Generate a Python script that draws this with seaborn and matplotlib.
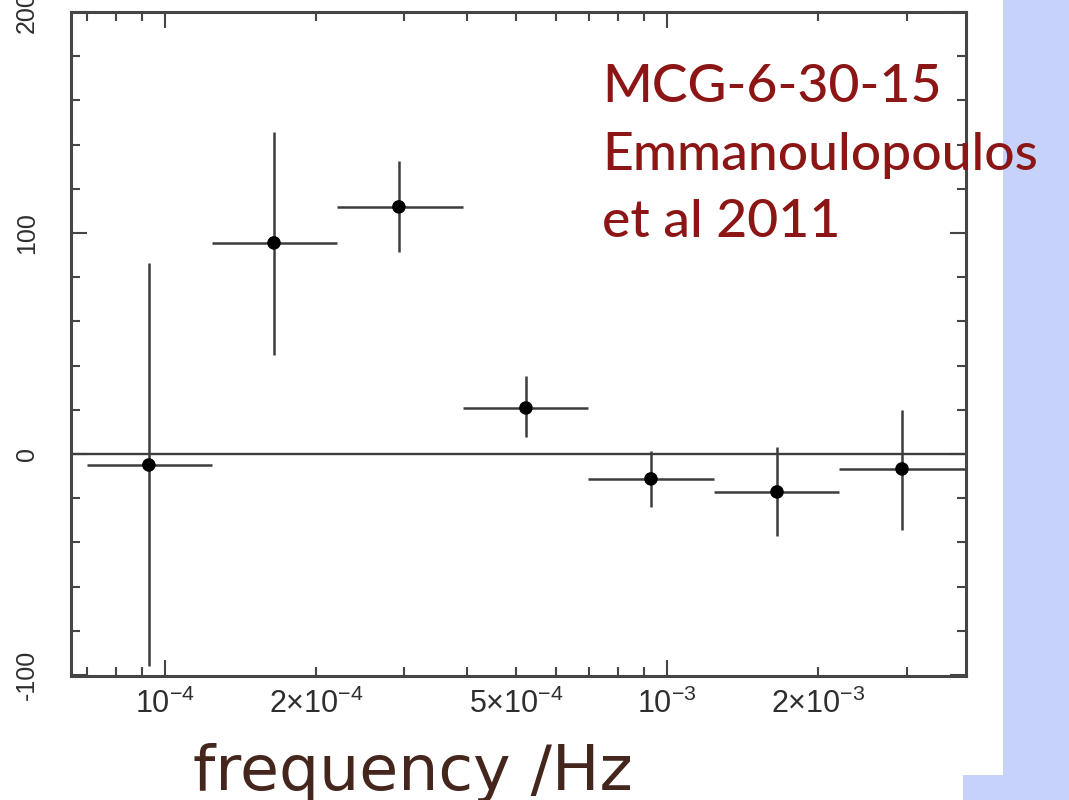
import numpy as np
import pandas as pd
import matplotlib
matplotlib.use("Agg")
import matplotlib.pyplot as plt
from matplotlib.patches import Rectangle
import seaborn as sns

# Time lag versus Fourier frequency for MCG-6-30-15 (bins are log-spaced)
freq = [9.29e-5, 1.649e-4, 2.924e-4, 5.236e-4, 9.29e-4, 1.656e-3, 2.938e-3]
freq_lo = [6.99e-5, 1.240e-4, 2.201e-4, 3.923e-4, 6.963e-4, 1.241e-3, 2.202e-3]
freq_hi = [1.240e-4, 2.201e-4, 3.923e-4, 6.963e-4, 1.241e-3, 2.202e-3, 3.923e-3]
lag = [-5.0, 95.5, 111.8, 20.8, -11.3, -17.2, -6.8]
lag_hi = [86.4, 145.7, 132.6, 35.3, 1.4, 3.2, 19.9]
lag_lo = [-95.9, 44.8, 91.4, 7.7, -24.0, -37.1, -34.4]

xtick_major = [1e-4, 1e-3]
xtick_major_labels = [r"$10^{-4}$", r"$10^{-3}$"]
xtick_minor = [7e-5, 8e-5, 9e-5, 2e-4, 3e-4, 4e-4, 5e-4, 6e-4, 7e-4, 8e-4, 9e-4, 2e-3, 3e-3]
xtick_minor_labels = ["", "", "", r"$2{\times}10^{-4}$", "", "", r"$5{\times}10^{-4}$",
                      "", "", "", "", r"$2{\times}10^{-3}$", ""]
ytick_major = [-100, 0, 100, 200]
ytick_major_labels = ["-100", "0", "100", "200"]
ytick_minor = [-80, -60, -40, -20, 20, 40, 60, 80, 120, 140, 160, 180]

title_lines = ["MCG-6-30-15", "Emmanoulopoulos", "et al 2011"]
xlabel_text = "frequency /Hz"

df = pd.DataFrame({"freq": freq, "lag": lag})

sns.set_theme(style="ticks")
plt.rcParams["font.family"] = ["Liberation Sans", "DejaVu Sans"]
plt.rcParams["mathtext.fontset"] = "custom"
plt.rcParams["mathtext.rm"] = "Liberation Sans"
plt.rcParams["mathtext.it"] = "Liberation Sans:italic"
plt.rcParams["mathtext.bf"] = "Liberation Sans:bold"

W, H = 1069, 800
fig = plt.figure(figsize=(W / 100, H / 100), dpi=100)
fig.patch.set_facecolor("white")

# slide background strips on the right edge
lav = "#c7d2fb"
fig.add_artist(Rectangle((1003 / W, 0), (W - 1003) / W, 1, transform=fig.transFigure,
                         facecolor=lav, edgecolor="none", zorder=0))
fig.add_artist(Rectangle((963 / W, 0), (W - 963) / W, 25 / H, transform=fig.transFigure,
                         facecolor=lav, edgecolor="none", zorder=0))

ax = fig.add_axes([71 / W, 124 / H, 895 / W, 664 / H])
ax.set_facecolor("white")

line_col = "#3d3d3d"
ax.axhline(0, color=line_col, lw=1.7, zorder=1)

lag_a = np.array(lag)
f_a = np.array(freq)
ax.errorbar(freq, lag,
            xerr=[f_a - np.array(freq_lo), np.array(freq_hi) - f_a],
            yerr=[lag_a - np.array(lag_lo), np.array(lag_hi) - lag_a],
            fmt="none", ecolor=line_col, elinewidth=1.8, capsize=0, zorder=2)
sns.scatterplot(data=df, x="freq", y="lag", ax=ax, color="black", s=95,
                edgecolor="none", zorder=3, legend=False)

ax.set_xscale("log")
ax.set_xlim(6.50e-5, 3.94e-3)
ax.set_ylim(-100.5, 200)

ax.set_xticks(xtick_major)
ax.set_xticklabels(xtick_major_labels)
ax.set_xticks(xtick_minor, minor=True)
ax.set_xticklabels(xtick_minor_labels, minor=True)
ax.set_yticks(ytick_major)
ax.set_yticklabels(ytick_major_labels)
ax.set_yticks(ytick_minor, minor=True)

ax.set_xlabel("")
ax.set_ylabel("")

spine_col = "#454545"
for s in ax.spines.values():
    s.set_visible(True)
    s.set_color(spine_col)
    s.set_linewidth(2.2)

ax.tick_params(which="both", direction="in", top=True, right=True,
               color=spine_col, width=1.5, labelcolor="#2e2e2e")
ax.tick_params(which="major", length=11.5)
ax.tick_params(which="minor", length=6.5)
ax.tick_params(axis="x", which="both", pad=9, labelsize=22)
ax.tick_params(axis="y", which="both", pad=23, labelsize=18, labelrotation=90)
for t in ax.get_yticklabels():
    t.set_va("center")

# annotation in the upper right
red = "#8c1515"
for txt, base in zip(title_lines, [102, 170, 237]):
    fig.text(602 / W, 1 - base / H, txt, color=red, fontsize=38.5, fontweight="medium",
             family=["Lato", "DejaVu Sans"], ha="left", va="baseline", zorder=5)

fig.text(193 / W, 1 - 790 / H, xlabel_text, color="#45261d", fontsize=45.5,
         family=["DejaVu Sans"], ha="left", va="baseline")

fig.savefig("out.png", dpi=100, facecolor="white")
